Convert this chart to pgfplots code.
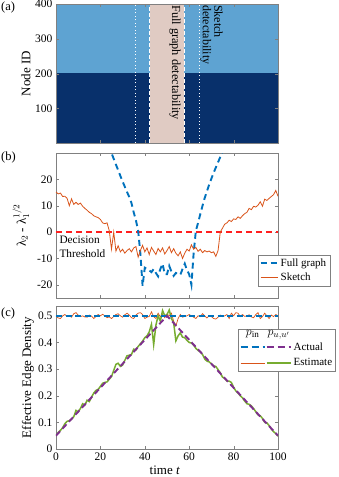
\documentclass[border=0pt]{standalone}
\usepackage{fontspec}
\setmainfont{Liberation Serif}
\usepackage{pgfplots}
\pgfplotsset{compat=1.18}

\definecolor{mblue}{HTML}{0072BD}
\definecolor{morange}{HTML}{D95319}
\definecolor{mpurple}{HTML}{7E2F8E}
\definecolor{mgreen}{HTML}{77AC30}
\definecolor{lightb}{HTML}{5EA3D2}
\definecolor{darkb}{HTML}{08306B}
\definecolor{pinkc}{HTML}{E0CBC3}
\definecolor{redth}{HTML}{FF1F1F}

\pgfplotsset{
  panel/.style={
    scale only axis, width=222pt,
    xmin=0, xmax=100, xtick={0,20,40,60,80,100},
    axis line style={black!50}, tick style={black!50},
    major tick length=3pt,
    tick label style={font=\fontsize{11.5}{12}\selectfont},
    label style={font=\fontsize{13}{14}\selectfont},
    /pgf/number format/assume math mode=true,
    legend style={draw=black!50, fill=white, font=\fontsize{11}{12}\selectfont,
      inner sep=1.5pt, row sep=1pt},
    legend cell align=left,
  },
}

\begin{document}
\begin{tikzpicture}
\useasboundingbox (0,0) rectangle (339pt,477pt);

% (a) node labels
\begin{axis}[panel, at={(56pt,334pt)}, anchor=south west, height=139pt,
  ymin=0.5, ymax=400.5, ytick={100,200,300,400}, xticklabels={},
  axis on top,
  ylabel={Node ID},
  ylabel style={at={(axis description cs:-0.135,0.5)}, anchor=center},
]
\addplot[fill=darkb, draw=none] coordinates {(0,0.5) (100,0.5) (100,200.5) (0,200.5)} -- cycle;
\addplot[fill=lightb, draw=none] coordinates {(0,200.5) (100,200.5) (100,400.5) (0,400.5)} -- cycle;
\addplot[fill=pinkc, draw=none] coordinates {(42.3,0.5) (57.7,0.5) (57.7,400.5) (42.3,400.5)} -- cycle;
\addplot[white, line width=1pt, dash pattern=on 4pt off 2pt] coordinates {(42.3,0.5) (42.3,400.5)};
\addplot[white, line width=1pt, dash pattern=on 4pt off 2pt] coordinates {(57.7,0.5) (57.7,400.5)};
\addplot[white, line width=1pt, dash pattern=on 1pt off 2.5pt] coordinates {(35.6,0.5) (35.6,400.5)};
\addplot[white, line width=1pt, dash pattern=on 1pt off 2.5pt] coordinates {(64.6,0.5) (64.6,400.5)};
\node[rotate=-90, anchor=north west, inner sep=0, font=\fontsize{12.3}{13}\selectfont]
  at (axis cs:56.2,397.5) {Full graph detectability};
\node[rotate=-90, anchor=north west, inner sep=0, align=left, font=\fontsize{12}{11.5}\selectfont]
  at (axis cs:75.2,397.5) {Sketch\\detectability};
\end{axis}

% (b) eigenvalue gap
\begin{axis}[panel, at={(56pt,179pt)}, anchor=south west, height=145pt,
  ymin=-25, ymax=30, ytick={-20,-10,0,10,20}, xticklabels={},
  ylabel={λ$_2$ - λ$_1^{1/2}$},
  ylabel style={at={(axis description cs:-0.158,0.5)}, anchor=center},
  legend style={at={(axis description cs:0.91,0.297)}, anchor=north west, row sep=1.5pt},
]
\addplot[redth, line width=1.3pt, dash pattern=on 6pt off 4pt, forget plot] coordinates {(0,0) (100,0)};
\addplot[mblue, line width=1.9pt, dash pattern=on 6pt off 4pt] coordinates {
(22,36.5)(23,34.2)(24,32)(25,30)(26,27.8)(27,25.6)(28,23.5)(29,21.3)(30,19.2)
(31,17.2)(32,15.2)(33,13.3)(34,11)(35,7.5)(36,4.5)(37,0.5)(38,-8)(39,-20.4)
(40,-13.5)(41,-14)(42,-14.5)(43,-15.2)(44,-14)(45,-15.5)(46,-16.8)(47,-14)
(48,-12)(49,-16)(50,-16)(51,-12.8)(52,-15)(53,-16.6)(54,-15.5)(55,-16)
(56,-16.2)(57,-14)(58,-12)(59,-14.5)(60,-16)(61,-20)(62,-8)(63,0.5)(64,3.5)
(65,6.8)(66,10)(67,13)(68,15.5)(69,18)(70,20.3)(71,22.5)(72,24.5)(73,26.5)
(74,28.5)(75,30.5)(76,32.5)(77,34.5)
};
\addlegendentry{Full graph}
\addplot[morange, line width=0.8pt] coordinates {
(0,15.2)(1,14.5)(2,14.8)(3,13.5)(4,13.6)(5,12.8)(6,10)(7,12.6)(8,10.5)(9,11.3)
(10,10.5)(11,11)(12,9.8)(13,9)(14,8.3)(15,7.5)(16,7)(17,6.2)(18,5.8)(19,5.5)
(20,4.8)(21,3.5)(22,3.2)(23,3.5)(24,0.5)(25,-6.5)(26,0)(27,-7.2)(28,-5.2)(29,-7.5)
(30,-6.5)(31,-8)(32,-7)(33,-6.3)(34,-7.5)(35,-6)(36,-5.5)(37,-9.5)(38,-7)(39,-5)
(40,-7.5)(41,-6)(42,-8.5)(43,-5.8)(44,-7.2)(45,-8.5)(46,-6.2)(47,-7.5)(48,-6)(49,-8.3)
(50,-7)(51,-5.5)(52,-7.8)(53,-6.3)(54,-8)(55,-9)(56,-7.5)(57,-10)(58,-8)(59,-6.5)
(60,-7.2)(61,-4.8)(62,-6.5)(63,-5.8)(64,-7.3)(65,-6.5)(66,-7.8)(67,-7)(68,-7.5)(69,-7.2)
(70,-7.8)(71,-7.5)(72,-9.2)(73,-7)(74,0)(75,1.5)(76,3)(77,3.5)(78,4.5)(79,4)
(80,5)(81,4.8)(82,5.8)(83,5.2)(84,6.2)(85,7)(86,7.5)(87,9)(88,8.5)(89,9.8)
(90,9.5)(91,10.2)(92,11.5)(93,9.8)(94,12.5)(95,12)(96,12.8)(97,13.5)(98,14.2)(99,15.8)
(100,13.6)
};
\addlegendentry{Sketch}
\node[anchor=north west, inner sep=0, align=left, font=\fontsize{11.3}{14}\selectfont]
  at (axis cs:1.5,-1.6) {Decision\\Threshold};
\end{axis}

% (c) edge density
\begin{axis}[panel, at={(56pt,28pt)}, anchor=south west, height=143pt,
  ymin=0, ymax=0.537, ytick={0,0.1,0.2,0.3,0.4,0.5},
  xlabel={time \textit{t}},
  xlabel style={at={(axis description cs:0.49,-0.147)}, anchor=center},
  ylabel={Effective Edge Density},
  ylabel style={at={(axis description cs:-0.126,0.5)}, anchor=center},
  legend style={at={(axis description cs:0.82,0.839)}, anchor=north west, row sep=3pt},
]
\addplot[morange, line width=0.7pt, forget plot] coordinates {
(0,0.5)(1,0.492)(2,0.49)(3,0.5)(4,0.505)(5,0.498)(6,0.5)(7,0.495)(8,0.508)(9,0.512)
(10,0.503)(11,0.497)(12,0.5)(13,0.496)(14,0.495)(15,0.503)(16,0.499)(17,0.49)(18,0.498)(19,0.505)
(20,0.5)(21,0.506)(22,0.5)(23,0.493)(24,0.496)(25,0.49)(26,0.498)(27,0.505)(28,0.508)(29,0.5)
(30,0.495)(31,0.504)(32,0.51)(33,0.503)(34,0.493)(35,0.49)(36,0.503)(37,0.51)(38,0.512)(39,0.505)
(40,0.49)(41,0.495)(42,0.498)(43,0.515)(44,0.497)(45,0.49)(46,0.51)(47,0.496)(48,0.505)(49,0.493)
(50,0.507)(51,0.5)(52,0.51)(53,0.48)(54,0.462)(55,0.49)(56,0.505)(57,0.495)(58,0.498)(59,0.5)
(60,0.505)(61,0.5)(62,0.495)(63,0.49)(64,0.5)(65,0.497)(66,0.508)(67,0.5)(68,0.492)(69,0.5)
(70,0.497)(71,0.49)(72,0.488)(73,0.495)(74,0.503)(75,0.497)(76,0.5)(77,0.505)(78,0.49)(79,0.51)
(80,0.5)(81,0.512)(82,0.51)(83,0.497)(84,0.505)(85,0.498)(86,0.5)(87,0.504)(88,0.496)(89,0.493)
(90,0.505)(91,0.512)(92,0.49)(93,0.497)(94,0.51)(95,0.5)(96,0.49)(97,0.503)(98,0.497)(99,0.505)
(100,0.5)
};
\addplot[mgreen, line width=1.5pt, forget plot] coordinates {
(0,0.05)(1,0.062)(2,0.07)(3,0.08)(4,0.095)(5,0.104)(6,0.106)(7,0.112)(8,0.121)(9,0.145)
(10,0.14)(11,0.152)(12,0.17)(13,0.165)(14,0.183)(15,0.178)(16,0.195)(17,0.21)(18,0.22)(19,0.224)
(20,0.235)(21,0.247)(22,0.25)(23,0.252)(24,0.262)(25,0.272)(26,0.295)(27,0.318)(28,0.322)(29,0.31)
(30,0.315)(31,0.333)(32,0.35)(33,0.352)(34,0.355)(35,0.375)(36,0.372)(37,0.385)(38,0.395)(39,0.405)
(40,0.418)(41,0.425)(42,0.44)(43,0.468)(44,0.392)(45,0.465)(46,0.5)(47,0.48)(48,0.52)(49,0.5)
(50,0.505)(51,0.522)(52,0.49)(53,0.474)(54,0.406)(55,0.425)(56,0.436)(57,0.42)(58,0.418)(59,0.408)
(60,0.4)(61,0.398)(62,0.39)(63,0.378)(64,0.37)(65,0.365)(66,0.355)(67,0.338)(68,0.33)(69,0.327)
(70,0.32)(71,0.312)(72,0.31)(73,0.298)(74,0.286)(75,0.27)(76,0.265)(77,0.255)(78,0.255)(79,0.25)
(80,0.232)(81,0.218)(82,0.21)(83,0.2)(84,0.192)(85,0.18)(86,0.17)(87,0.168)(88,0.162)(89,0.152)
(90,0.14)(91,0.128)(92,0.125)(93,0.115)(94,0.1)(95,0.098)(96,0.088)(97,0.075)(98,0.065)(99,0.058)
(100,0.048)
};
\addplot[mblue, line width=1.9pt, dash pattern=on 6pt off 3.5pt, forget plot] coordinates {(0,0.5) (100,0.5)};
\addplot[mpurple, line width=1.9pt, dash pattern=on 6pt off 3.5pt, forget plot] coordinates {(0,0.05) (50,0.5) (100,0.05)};
\addlegendimage{legend image code/.code={
  \node[inner sep=0, anchor=base, font=\fontsize{13}{14}\selectfont] at (12pt,-2pt) {$p_{\mathrm{in}}$};
  \node[inner sep=0, anchor=base, font=\fontsize{13}{14}\selectfont] at (38pt,-2pt) {$p_{u,u'}$};}}
\addlegendentry{}
\addlegendimage{legend image code/.code={
  \draw[mblue, line width=1.9pt, dash pattern=on 7pt off 4pt] (0pt,0pt) -- (24pt,0pt);
  \draw[mpurple, line width=1.9pt, dash pattern=on 7pt off 4pt] (26pt,0pt) -- (50pt,0pt);}}
\addlegendentry{Actual}
\addlegendimage{legend image code/.code={
  \draw[morange, line width=0.8pt] (0pt,0pt) -- (24pt,0pt);
  \draw[mgreen, line width=1.6pt] (26pt,0pt) -- (50pt,0pt);}}
\addlegendentry{Estimate}
\end{axis}

\node[anchor=west, inner sep=0, font=\fontsize{12.5}{13}\selectfont] at (1pt,470pt) {(a)};
\node[anchor=west, inner sep=0, font=\fontsize{12.5}{13}\selectfont] at (1pt,320pt) {(b)};
\node[anchor=west, inner sep=0, font=\fontsize{12.5}{13}\selectfont] at (1pt,164pt) {(c)};
\end{tikzpicture}
\end{document}
